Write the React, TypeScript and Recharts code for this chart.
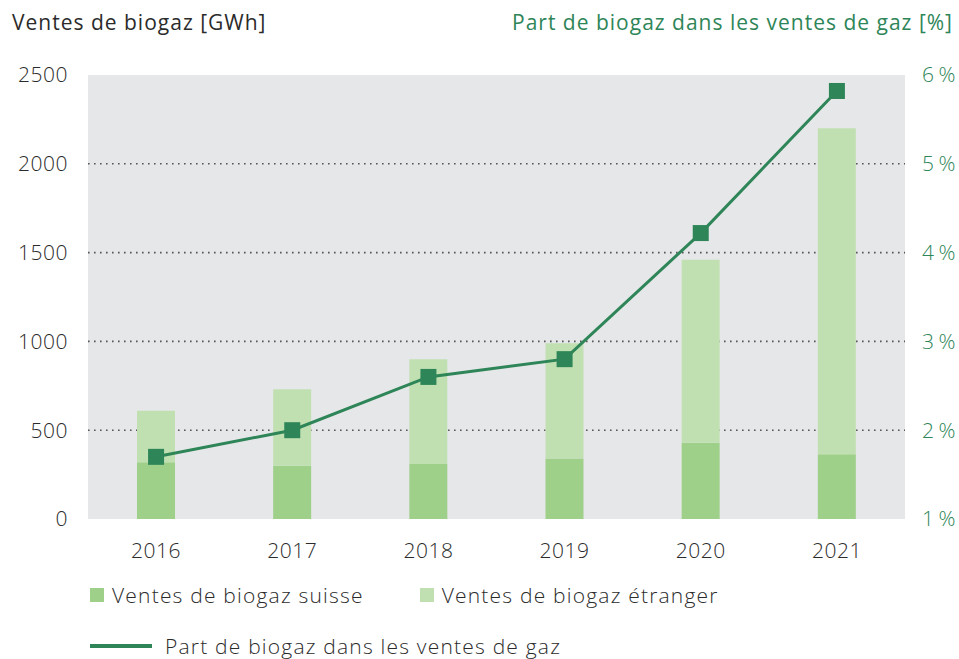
import React from "react";
import {
  ComposedChart,
  Bar,
  Line,
  XAxis,
  YAxis,
  CartesianGrid,
} from "recharts";

// Biogas sales per year [GWh] and biogas share of gas sales [%]
const years = ["2016", "2017", "2018", "2019", "2020", "2021"];
const swissSales = [320, 300, 310, 340, 430, 365];
const foreignSales = [290, 430, 590, 650, 1030, 1835];
const biogasShare = [1.7, 2.0, 2.6, 2.8, 4.22, 5.82];

const leftTicks = [0, 500, 1000, 1500, 2000, 2500];
const rightTicks = [1, 2, 3, 4, 5, 6];
const gridValues = [500, 1000, 1500, 2000];

const data = years.map((year, i) => ({
  year,
  swiss: swissSales[i],
  foreign: foreignSales[i],
  share: biogasShare[i],
}));

const FONT = "'Open Sans', Lato, sans-serif";
const DARK = "#2b2b2b";
const GREEN_LINE = "#2e8558";
const GREEN_SWISS = "#9fd08a";
const GREEN_FOREIGN = "#c1e0b1";
const PLOT_BG = "#e6e7e9";

function SquareDot(props: { cx?: number; cy?: number }) {
  const { cx, cy } = props;
  if (cx == null || cy == null) return null;
  return <rect x={cx - 8} y={cy - 8} width={16} height={16} fill={GREEN_LINE} />;
}

export default function App() {
  const tickStyle = {
    fontFamily: FONT,
    fontSize: 21,
    fill: DARK,
    fontWeight: 300,
    letterSpacing: 0.5,
  };

  return (
    <div
      style={{
        position: "absolute",
        left: 0,
        top: 0,
        width: 959,
        height: 659,
        background: "#fff",
        fontFamily: FONT,
      }}
    >
      <div
        style={{
          position: "absolute",
          left: 12,
          top: 8,
          fontSize: 21,
          letterSpacing: 1,
          color: DARK,
          fontWeight: 400,
        }}
      >
        Ventes de biogaz [GWh]
      </div>
      <div
        style={{
          position: "absolute",
          right: 6,
          top: 8,
          fontSize: 21,
          letterSpacing: 1,
          color: GREEN_LINE,
          fontWeight: 400,
        }}
      >
        Part de biogaz dans les ventes de gaz [%]
      </div>

      <ComposedChart
        width={959}
        height={659}
        data={data}
        margin={{ top: 75, right: 0, bottom: 90, left: 0 }}
        barCategoryGap={0}
      >
        <CartesianGrid
          yAxisId="left"
          vertical={false}
          fill={PLOT_BG}
          horizontalValues={gridValues}
          stroke="#555"
          strokeDasharray="1.6 4.4"
          strokeWidth={1.6}
        />
        <XAxis
          dataKey="year"
          axisLine={false}
          tickLine={false}
          tickMargin={18}
          tick={tickStyle}
          height={50}
        />
        <YAxis
          yAxisId="left"
          domain={[0, 2500]}
          ticks={leftTicks}
          axisLine={false}
          tickLine={false}
          tickMargin={14}
          width={88}
          tick={tickStyle}
          interval={0}
        />
        <YAxis
          yAxisId="right"
          orientation="right"
          domain={[1, 6]}
          ticks={rightTicks}
          axisLine={false}
          tickLine={false}
          tickMargin={11}
          width={54}
          tick={{ ...tickStyle, fill: GREEN_LINE }}
          tickFormatter={(v: number) => `${v}\u2009%`}
          interval={0}
        />
        <Bar
          yAxisId="left"
          dataKey="swiss"
          stackId="sales"
          fill={GREEN_SWISS}
          barSize={38}
          isAnimationActive={false}
        />
        <Bar
          yAxisId="left"
          dataKey="foreign"
          stackId="sales"
          fill={GREEN_FOREIGN}
          barSize={38}
          isAnimationActive={false}
        />
        <Line
          yAxisId="right"
          dataKey="share"
          stroke={GREEN_LINE}
          strokeWidth={3}
          dot={<SquareDot />}
          activeDot={false}
          isAnimationActive={false}
        />
      </ComposedChart>

      {/* legend */}
      <div
        style={{
          position: "absolute",
          left: 90,
          top: 581,
          fontSize: 21,
          letterSpacing: 1.2,
          color: DARK,
          fontWeight: 300,
          display: "flex",
          alignItems: "center",
          whiteSpace: "nowrap",
        }}
      >
        <span style={{ width: 14, height: 14, background: GREEN_SWISS, marginRight: 8 }} />
        <span>Ventes de biogaz suisse</span>
        <span
          style={{
            width: 14,
            height: 14,
            background: GREEN_FOREIGN,
            marginLeft: 56,
            marginRight: 8,
          }}
        />
        <span>Ventes de biogaz étranger</span>
      </div>
      <div
        style={{
          position: "absolute",
          left: 90,
          top: 632,
          fontSize: 21,
          letterSpacing: 1.2,
          color: DARK,
          fontWeight: 300,
          display: "flex",
          alignItems: "center",
          whiteSpace: "nowrap",
        }}
      >
        <span style={{ width: 62, height: 4, background: GREEN_LINE, marginRight: 13 }} />
        <span>Part de biogaz dans les ventes de gaz</span>
      </div>
    </div>
  );
}
